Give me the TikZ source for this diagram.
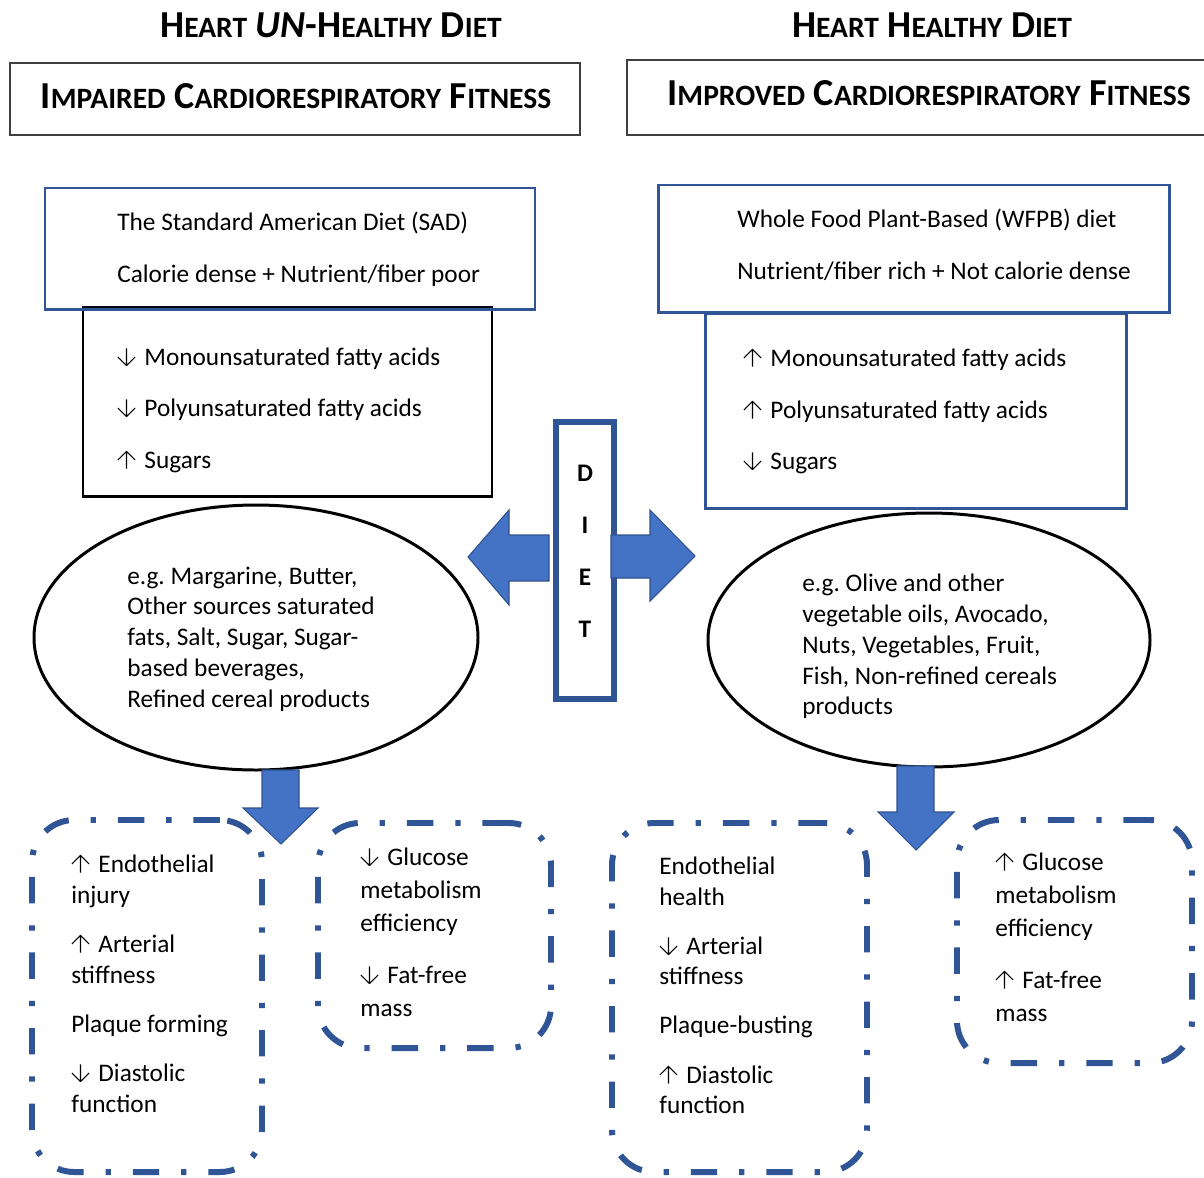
\documentclass[tikz,border=0pt]{standalone}
\usepackage{fontspec}
\setmainfont{Carlito}
\usetikzlibrary{shapes.geometric}

\definecolor{boxblue}{HTML}{2F5597}
\definecolor{arrowblue}{HTML}{4472C4}
\definecolor{arrowedge}{HTML}{2F528F}

\newcommand\pxu{0.02cm}
\newcommand\scap[2]{#1{\fontsize{16.8}{18}\selectfont #2}}
% thin open-headed arrows as in the text
\newcommand\up{\tikz[baseline=0pt, x=1pt, y=1pt]{\draw[line width=0.6pt, line join=round] (0,-0.2) -- (0,9.6) (-4.9,4.7) -- (0,9.6) -- (4.9,4.7);}\hspace{5pt}}
\newcommand\dn{\tikz[baseline=0pt, x=1pt, y=1pt]{\draw[line width=0.6pt, line join=round] (0,9.6) -- (0,-0.2) (-4.9,4.7) -- (0,-0.2) -- (4.9,4.7);}\hspace{5pt}}

\tikzset{
  ttl/.style={font=\fontsize{21.7}{24}\selectfont\bfseries, inner sep=0pt},
  plainbox/.style={draw=black!75, line width=0.6pt, inner sep=0pt},
  bluebox/.style={draw=boxblue, line width=1.7pt, inner sep=0pt},
  blackbox/.style={draw=black, line width=1.7pt, inner sep=0pt},
  food/.style={ellipse, draw=black, line width=1.7pt, inner sep=0pt},
  dietbox/.style={draw=boxblue, line width=3.4pt, inner sep=0pt},
  dashbox/.style={draw=boxblue, line width=3.4pt, inner sep=0pt, rounded corners=24pt,
    dash pattern=on 15pt off 12.5pt on 3pt off 12.5pt},
  blockarrow/.style={fill=arrowblue, draw=arrowedge, line width=0.6pt},
  txt/.style={anchor=mid west, inner sep=0pt, yshift=-4*\pxu, font=\fontsize{14.4}{17.6}\selectfont},
  letter/.style={inner sep=0pt, font=\fontsize{14.4}{17.6}\selectfont\bfseries}
}

\begin{document}
\begin{tikzpicture}[x=\pxu, y=-\pxu]
  \useasboundingbox (0,0) rectangle (1204,1177);
  % headings
  \node[ttl] (tleft) at (331,25) {\scap{H}{EART} \textit{UN}-\scap{H}{EALTHY} \scap{D}{IET}};
  \node[ttl] (tright) at (932,25) {\scap{H}{EART} \scap{H}{EALTHY} \scap{D}{IET}};
  \node[plainbox, minimum width=570*\pxu, minimum height=72*\pxu] (impaired) at (295,99) {};
  \node[ttl] (impairedtxt) at (296,96) {\scap{I}{MPAIRED} \scap{C}{ARDIORESPIRATORY} \scap{F}{ITNESS}};
  \node[plainbox, minimum width=600*\pxu, minimum height=75*\pxu] (improved) at (927,97.5) {};
  \node[ttl] (improvedtxt) at (929,93) {\scap{I}{MPROVED} \scap{C}{ARDIORESPIRATORY} \scap{F}{ITNESS}};

  % unhealthy side
  \node[blackbox, minimum width=409*\pxu, minimum height=189*\pxu] (sadfats) at (287.5,401.5) {};
  \node[bluebox, minimum width=490*\pxu, minimum height=121*\pxu] (sad) at (290,248.5) {};
  \node[txt] (sad1) at (117,222) {The Standard American Diet (SAD)};
  \node[txt] (sad2) at (117,274) {Calorie dense + Nutrient/fiber poor};
  \node[txt] (sadf1) at (117,357) {\dn Monounsaturated fatty acids};
  \node[txt] (sadf2) at (117,408) {\dn Polyunsaturated fatty acids};
  \node[txt] (sadf3) at (117,460) {\up Sugars};

  % healthy side
  \node[bluebox, minimum width=511*\pxu, minimum height=127*\pxu] (wfpb) at (913.5,248.5) {};
  \node[bluebox, minimum width=421*\pxu, minimum height=195*\pxu] (wfpbfats) at (915.5,410.5) {};
  \node[txt] (wfpb1) at (737,219) {Whole Food Plant-Based (WFPB) diet};
  \node[txt] (wfpb2) at (737,271) {Nutrient/fiber rich + Not calorie dense};
  \node[txt] (wfpbf1) at (743,358) {\up Monounsaturated fatty acids};
  \node[txt] (wfpbf2) at (743,410) {\up Polyunsaturated fatty acids};
  \node[txt] (wfpbf3) at (743,461) {\dn Sugars};

  % diet in the middle
  \filldraw[blockarrow] (549,535) -- (509,535) -- (509,510) -- (468,557) -- (509,605) -- (509,581) -- (549,581) -- cycle;
  \node[dietbox, minimum width=58*\pxu, minimum height=277*\pxu] (diet) at (585,560.5) {};
  \node[letter] (dietD) at (585,473) {D};
  \node[letter] (dietI) at (585,525) {I};
  \node[letter] (dietE) at (585,577) {E};
  \node[letter] (dietT) at (585,629) {T};
  \filldraw[blockarrow] (611,535) -- (650,535) -- (650,510) -- (695,556) -- (650,601) -- (650,578) -- (611,578) -- cycle;

  % foods
  \node[food, minimum width=444*\pxu, minimum height=265*\pxu] (badfood) at (256,637.5) {};
  \node[txt] (bad1) at (127,576) {e.g.\ Margarine, Butter,};
  \node[txt] (bad2) at (127,606) {Other sources saturated};
  \node[txt] (bad3) at (127,637) {fats, Salt, Sugar, Sugar-};
  \node[txt] (bad4) at (127,668) {based beverages,};
  \node[txt] (bad5) at (127,699) {Refined cereal products};
  \node[food, minimum width=442*\pxu, minimum height=254*\pxu] (goodfood) at (929,640) {};
  \node[txt] (good1) at (802,583) {e.g.\ Olive and other};
  \node[txt] (good2) at (802,614) {vegetable oils, Avocado,};
  \node[txt] (good3) at (802,645) {Nuts, Vegetables, Fruit,};
  \node[txt] (good4) at (802,676) {Fish, Non-refined cereals};
  \node[txt] (good5) at (802,706) {products};
  \filldraw[blockarrow] (262,770) -- (299,770) -- (299,808) -- (318,808) -- (281,844) -- (243,808) -- (262,808) -- cycle;
  \filldraw[blockarrow] (897,766) -- (934,766) -- (934,812) -- (954,812) -- (916,850) -- (878,812) -- (897,812) -- cycle;

  % outcomes, unhealthy
  \node[dashbox, minimum width=230*\pxu, minimum height=352*\pxu] (badvessel) at (147,996) {};
  \node[txt] (bv1) at (71,864) {\up Endothelial};
  \node[txt] (bv2) at (71,895) {injury};
  \node[txt] (bv3) at (71,944) {\up Arterial};
  \node[txt] (bv4) at (71,975) {stiffness};
  \node[txt] (bv5) at (71,1024) {Plaque forming};
  \node[txt] (bv6) at (71,1073) {\dn Diastolic};
  \node[txt] (bv7) at (71,1104) {function};
  \node[dashbox, minimum width=233*\pxu, minimum height=225*\pxu] (badmeta) at (434.5,935.5) {};
  \node[txt] (bm1) at (360,857) {\dn Glucose};
  \node[txt] (bm2) at (360,890) {metabolism};
  \node[txt] (bm3) at (360,923) {efficiency};
  \node[txt] (bm4) at (360,975) {\dn Fat-free};
  \node[txt] (bm5) at (360,1008) {mass};

  % outcomes, healthy
  \node[dashbox, minimum width=255*\pxu, minimum height=349*\pxu] (goodvessel) at (739.5,997.5) {};
  \node[txt] (gv1) at (659,866) {Endothelial};
  \node[txt] (gv2) at (659,897) {health};
  \node[txt] (gv3) at (659,946) {\dn Arterial};
  \node[txt] (gv4) at (659,976) {stiffness};
  \node[txt] (gv5) at (659,1025) {Plaque-busting};
  \node[txt] (gv6) at (659,1075) {\up Diastolic};
  \node[txt] (gv7) at (659,1105) {function};
  \node[dashbox, minimum width=235*\pxu, minimum height=243*\pxu] (goodmeta) at (1074.5,941.5) {};
  \node[txt] (gm1) at (995,862) {\up Glucose};
  \node[txt] (gm2) at (995,895) {metabolism};
  \node[txt] (gm3) at (995,928) {efficiency};
  \node[txt] (gm4) at (995,980) {\up Fat-free};
  \node[txt] (gm5) at (995,1013) {mass};
\end{tikzpicture}
\end{document}
